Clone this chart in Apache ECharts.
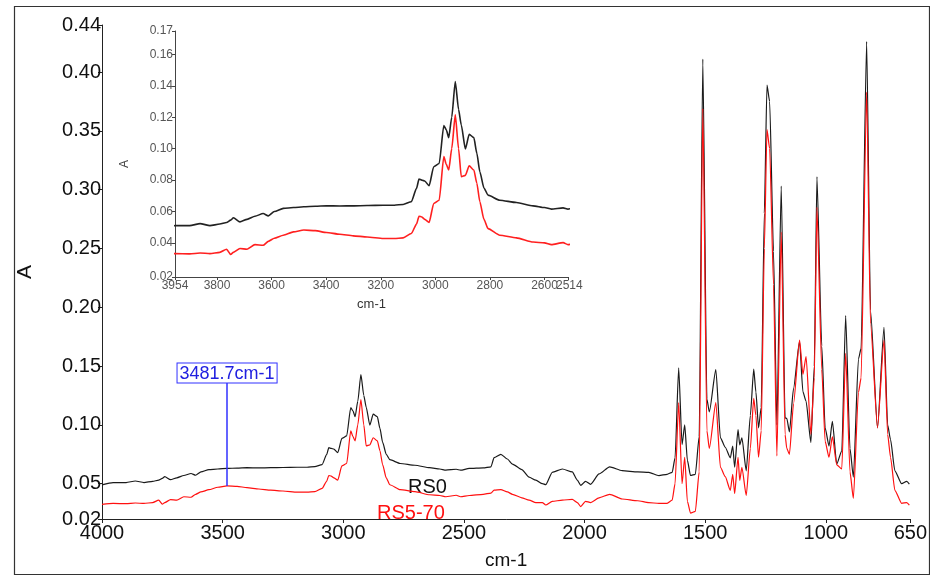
<!DOCTYPE html>
<html>
<head>
<meta charset="utf-8">
<script src="https://cdn.jsdelivr.net/npm/echarts@6/dist/echarts.min.js"></script>
<style>
  html, body { margin: 0; padding: 0; background: #fff; }
  #chart { width: 930px; height: 575px; }
</style>
</head>
<body>
<div id="chart"></div>
<script>
// wavenumbers (cm-1)
var wavenumbers = [4000, 3954, 3900, 3862, 3826, 3790, 3765, 3750, 3740, 3716, 3690, 3661, 3631, 3612, 3590, 3557, 3520, 3482, 3440, 3399, 3350, 3301, 3250, 3191, 3150, 3118, 3088, 3069, 3060, 3050, 3039, 3023, 3006, 2986, 2969, 2960, 2951, 2940, 2927, 2915, 2905, 2890, 2876, 2859, 2848, 2837, 2822, 2807, 2764, 2703, 2642, 2600, 2575, 2532, 2514, 2478, 2420, 2388, 2375, 2347, 2320, 2299, 2260, 2230, 2202, 2175, 2161, 2134, 2092, 2051, 2030, 2016, 1996, 1975, 1940, 1896, 1844, 1780, 1734, 1692, 1658, 1637, 1625, 1610, 1596, 1585, 1574, 1561, 1541, 1525, 1510, 1493, 1483, 1456, 1437, 1417, 1396, 1386, 1378, 1364, 1357, 1348, 1330, 1313, 1299, 1290, 1279, 1268, 1255, 1244, 1233, 1217, 1203, 1185, 1169, 1162, 1151, 1134, 1109, 1095, 1082, 1062, 1048, 1037, 1017, 1003, 987, 973, 955, 934, 918, 900, 886, 865, 854, 831, 815, 786, 759, 744, 732, 714, 686, 665, 654];

var absRS0 = [0.049, 0.051, 0.051, 0.0523, 0.051, 0.052, 0.053, 0.0545, 0.056, 0.0534, 0.055, 0.057, 0.0587, 0.0572, 0.060, 0.062, 0.0625, 0.063, 0.0633, 0.0636, 0.0635, 0.0636, 0.0638, 0.064, 0.064, 0.0645, 0.0662, 0.0747, 0.0806, 0.080, 0.0794, 0.0764, 0.0885, 0.0906, 0.1147, 0.112, 0.107, 0.120, 0.1428, 0.125, 0.115, 0.0998, 0.1091, 0.107, 0.097, 0.0853, 0.075, 0.0704, 0.0672, 0.0657, 0.0636, 0.0625, 0.0615, 0.0623, 0.0615, 0.063, 0.0635, 0.0644, 0.0722, 0.075, 0.071, 0.0667, 0.062, 0.0556, 0.053, 0.050, 0.0492, 0.0597, 0.0625, 0.060, 0.053, 0.0486, 0.052, 0.0495, 0.0583, 0.0644, 0.0611, 0.060, 0.0597, 0.0569, 0.058, 0.0597, 0.072, 0.1486, 0.0833, 0.100, 0.070, 0.057, 0.058, 0.090, 0.411, 0.122, 0.111, 0.147, 0.089, 0.081, 0.072, 0.082, 0.064, 0.096, 0.083, 0.089, 0.061, 0.108, 0.1475, 0.128, 0.0975, 0.115, 0.28, 0.389, 0.375, 0.2475, 0.100, 0.303, 0.106, 0.1056, 0.094, 0.131, 0.171, 0.128, 0.120, 0.085, 0.15, 0.311, 0.167, 0.0975, 0.082, 0.103, 0.0667, 0.078, 0.193, 0.08, 0.0556, 0.156, 0.165, 0.426, 0.1975, 0.0975, 0.183, 0.100, 0.0875, 0.061, 0.050, 0.052, 0.0497];

var absRS570 = [0.0325, 0.0332, 0.033, 0.0336, 0.0332, 0.034, 0.036, 0.0326, 0.034, 0.0364, 0.036, 0.0389, 0.0385, 0.041, 0.043, 0.0449, 0.047, 0.0482, 0.0478, 0.0466, 0.0455, 0.0445, 0.0438, 0.0428, 0.0428, 0.0432, 0.046, 0.052, 0.057, 0.0565, 0.055, 0.053, 0.0651, 0.0672, 0.0949, 0.090, 0.0864, 0.100, 0.1215, 0.100, 0.0821, 0.083, 0.0891, 0.0864, 0.078, 0.0662, 0.055, 0.0491, 0.0449, 0.0432, 0.0406, 0.040, 0.0389, 0.0402, 0.0389, 0.040, 0.041, 0.042, 0.0445, 0.045, 0.043, 0.041, 0.038, 0.036, 0.0339, 0.034, 0.0319, 0.035, 0.036, 0.0367, 0.034, 0.0306, 0.035, 0.034, 0.038, 0.041, 0.037, 0.0355, 0.0339, 0.0333, 0.0333, 0.036, 0.050, 0.119, 0.050, 0.0725, 0.035, 0.025, 0.0265, 0.060, 0.369, 0.095, 0.080, 0.119, 0.064, 0.056, 0.0444, 0.058, 0.0417, 0.0725, 0.0528, 0.064, 0.040, 0.080, 0.1225, 0.108, 0.0725, 0.095, 0.25, 0.351, 0.335, 0.2194, 0.0736, 0.264, 0.0917, 0.080, 0.075, 0.118, 0.172, 0.143, 0.158, 0.092, 0.14, 0.285, 0.147, 0.086, 0.0725, 0.090, 0.066, 0.0625, 0.161, 0.06, 0.0375, 0.1275, 0.14, 0.383, 0.186, 0.0975, 0.172, 0.092, 0.0725, 0.0444, 0.0333, 0.034, 0.0317];

var mainXTicks = [4000, 3500, 3000, 2500, 2000, 1500, 1000, 650];
var mainYTicks = [0.02, 0.05, 0.10, 0.15, 0.20, 0.25, 0.30, 0.35, 0.40, 0.44];
var insetXTicks = [3954, 3800, 3600, 3400, 3200, 3000, 2800, 2600, 2514];
var insetXLabels = [3954, 3800, 3600, 3400, 3200, 3000, 2800, 2600];
var insetYTicks = [0.0183, 0.04, 0.06, 0.08, 0.10, 0.12, 0.14, 0.16, 0.1749];

var markerWave = 3481.7;
var markerTop = 0.136;
var markerBottom = 0.048;

function pairs(xs, ys) {
  return xs.map(function (x, i) { return [x, ys[i]]; });
}
function plain(v) { return String(v); }
function twoDec(v) { return v.toFixed(2); }

var FONT = 'Liberation Sans, Arial, sans-serif';
var chart = echarts.init(document.getElementById('chart'));

var option = {
  backgroundColor: '#fff',
  animation: false,
  grid: [
    { left: 102, right: 18, top: 25, bottom: 49 },
    { left: 175, top: 31, width: 393, height: 246 }
  ],
  xAxis: [
    {
      gridIndex: 0, type: 'value', min: 650, max: 4000, inverse: true,
      name: 'cm-1', nameLocation: 'middle', nameGap: 32,
      nameTextStyle: { fontFamily: FONT, fontSize: 19, color: '#111' },
      axisLine: { lineStyle: { color: '#222', width: 1 } },
      axisTick: { length: 4, customValues: mainXTicks, lineStyle: { color: '#222' } },
      axisLabel: {
        customValues: mainXTicks, formatter: plain, showMinLabel: true, showMaxLabel: true,
        fontFamily: FONT, fontSize: 20, color: '#111', margin: 4
      },
      splitLine: { show: false }
    },
    {
      gridIndex: 1, type: 'value', min: 2514, max: 3954, inverse: true,
      name: 'cm-1', nameLocation: 'middle', nameGap: 21,
      nameTextStyle: { fontFamily: FONT, fontSize: 13, color: '#333' },
      axisLine: { lineStyle: { color: '#444', width: 1 } },
      axisTick: { length: 3, customValues: insetXTicks, lineStyle: { color: '#444' } },
      axisLabel: {
        customValues: insetXLabels, formatter: plain, showMinLabel: true,
        hideOverlap: false, fontFamily: FONT, fontSize: 12, color: '#555', margin: 3
      },
      splitLine: { show: false }
    }
  ],
  yAxis: [
    {
      gridIndex: 0, type: 'value', min: 0.02, max: 0.44,
      name: 'A', nameLocation: 'middle', nameGap: 66, nameRotate: 90,
      nameTextStyle: { fontFamily: FONT, fontSize: 21, color: '#111' },
      axisLine: { show: true, lineStyle: { color: '#222', width: 1 } },
      axisTick: { show: true, length: 4, customValues: mainYTicks, lineStyle: { color: '#222' } },
      axisLabel: {
        customValues: mainYTicks, formatter: twoDec, showMinLabel: true, showMaxLabel: true,
        fontFamily: FONT, fontSize: 20, color: '#111', margin: 1
      },
      splitLine: { show: false }
    },
    {
      gridIndex: 1, type: 'value', min: 0.0183, max: 0.1749,
      name: 'A', nameLocation: 'middle', nameGap: 44, nameRotate: 90,
      nameTextStyle: { fontFamily: FONT, fontSize: 12, color: '#444', padding: [0, 0, 0, -20] },
      axisLine: { show: true, lineStyle: { color: '#444', width: 1 } },
      axisTick: { show: true, length: 3, customValues: insetYTicks, lineStyle: { color: '#444' } },
      axisLabel: {
        customValues: insetYTicks, formatter: twoDec, showMinLabel: true, showMaxLabel: true,
        fontFamily: FONT, fontSize: 12, color: '#555', margin: 2
      },
      splitLine: { show: false }
    }
  ],
  series: [
    {
      name: 'RS0', type: 'line', xAxisIndex: 0, yAxisIndex: 0,
      data: pairs(wavenumbers, absRS0), showSymbol: false,
      smooth: 0.2, smoothMonotone: 'x',
      lineStyle: { color: '#1a1a1a', width: 1.2 }
    },
    {
      name: 'RS5-70', type: 'line', xAxisIndex: 0, yAxisIndex: 0,
      data: pairs(wavenumbers, absRS570), showSymbol: false,
      smooth: 0.2, smoothMonotone: 'x',
      lineStyle: { color: '#ff1010', width: 1.2 },
      markLine: {
        symbol: 'none', silent: true,
        lineStyle: { color: '#3030ff', width: 1.5, type: 'solid' },
        label: {
          show: true, position: 'start', distance: 0,
          formatter: markerWave + 'cm-1',
          fontFamily: FONT, fontSize: 18, color: '#2020e0',
          backgroundColor: '#fff', borderColor: '#3030ff', borderWidth: 1, padding: [1, 2, 0, 2]
        },
        data: [[{ coord: [markerWave, markerTop] }, { coord: [markerWave, markerBottom] }]]
      }
    },
    {
      name: 'RS0 inset', type: 'line', xAxisIndex: 1, yAxisIndex: 1,
      data: pairs(wavenumbers, absRS0), showSymbol: false, clip: true,
      smooth: 0.2, smoothMonotone: 'x',
      lineStyle: { color: '#222', width: 1.6 }
    },
    {
      name: 'RS5-70 inset', type: 'line', xAxisIndex: 1, yAxisIndex: 1,
      data: pairs(wavenumbers, absRS570), showSymbol: false, clip: true,
      smooth: 0.2, smoothMonotone: 'x',
      lineStyle: { color: '#ff2020', width: 1.6 }
    }
  ],
  graphic: [
    {
      type: 'rect', left: 12, top: 4, silent: true,
      shape: { width: 915, height: 568 },
      style: { fill: 'none', stroke: '#333', lineWidth: 1.2 }
    },
    {
      // end label of the inset x axis, which sits flush against "2600"
      type: 'text', left: 556, top: 280,
      style: { text: '2514', font: '12px ' + FONT, fill: '#555' }
    },
    {
      type: 'text', left: 408, top: 477,
      style: { text: 'RS0', font: '20px ' + FONT, fill: '#111' }
    },
    {
      type: 'text', left: 377, top: 503,
      style: { text: 'RS5-70', font: '20px ' + FONT, fill: '#ff1010' }
    }
  ]
};

chart.setOption(option);
</script>
</body>
</html>
